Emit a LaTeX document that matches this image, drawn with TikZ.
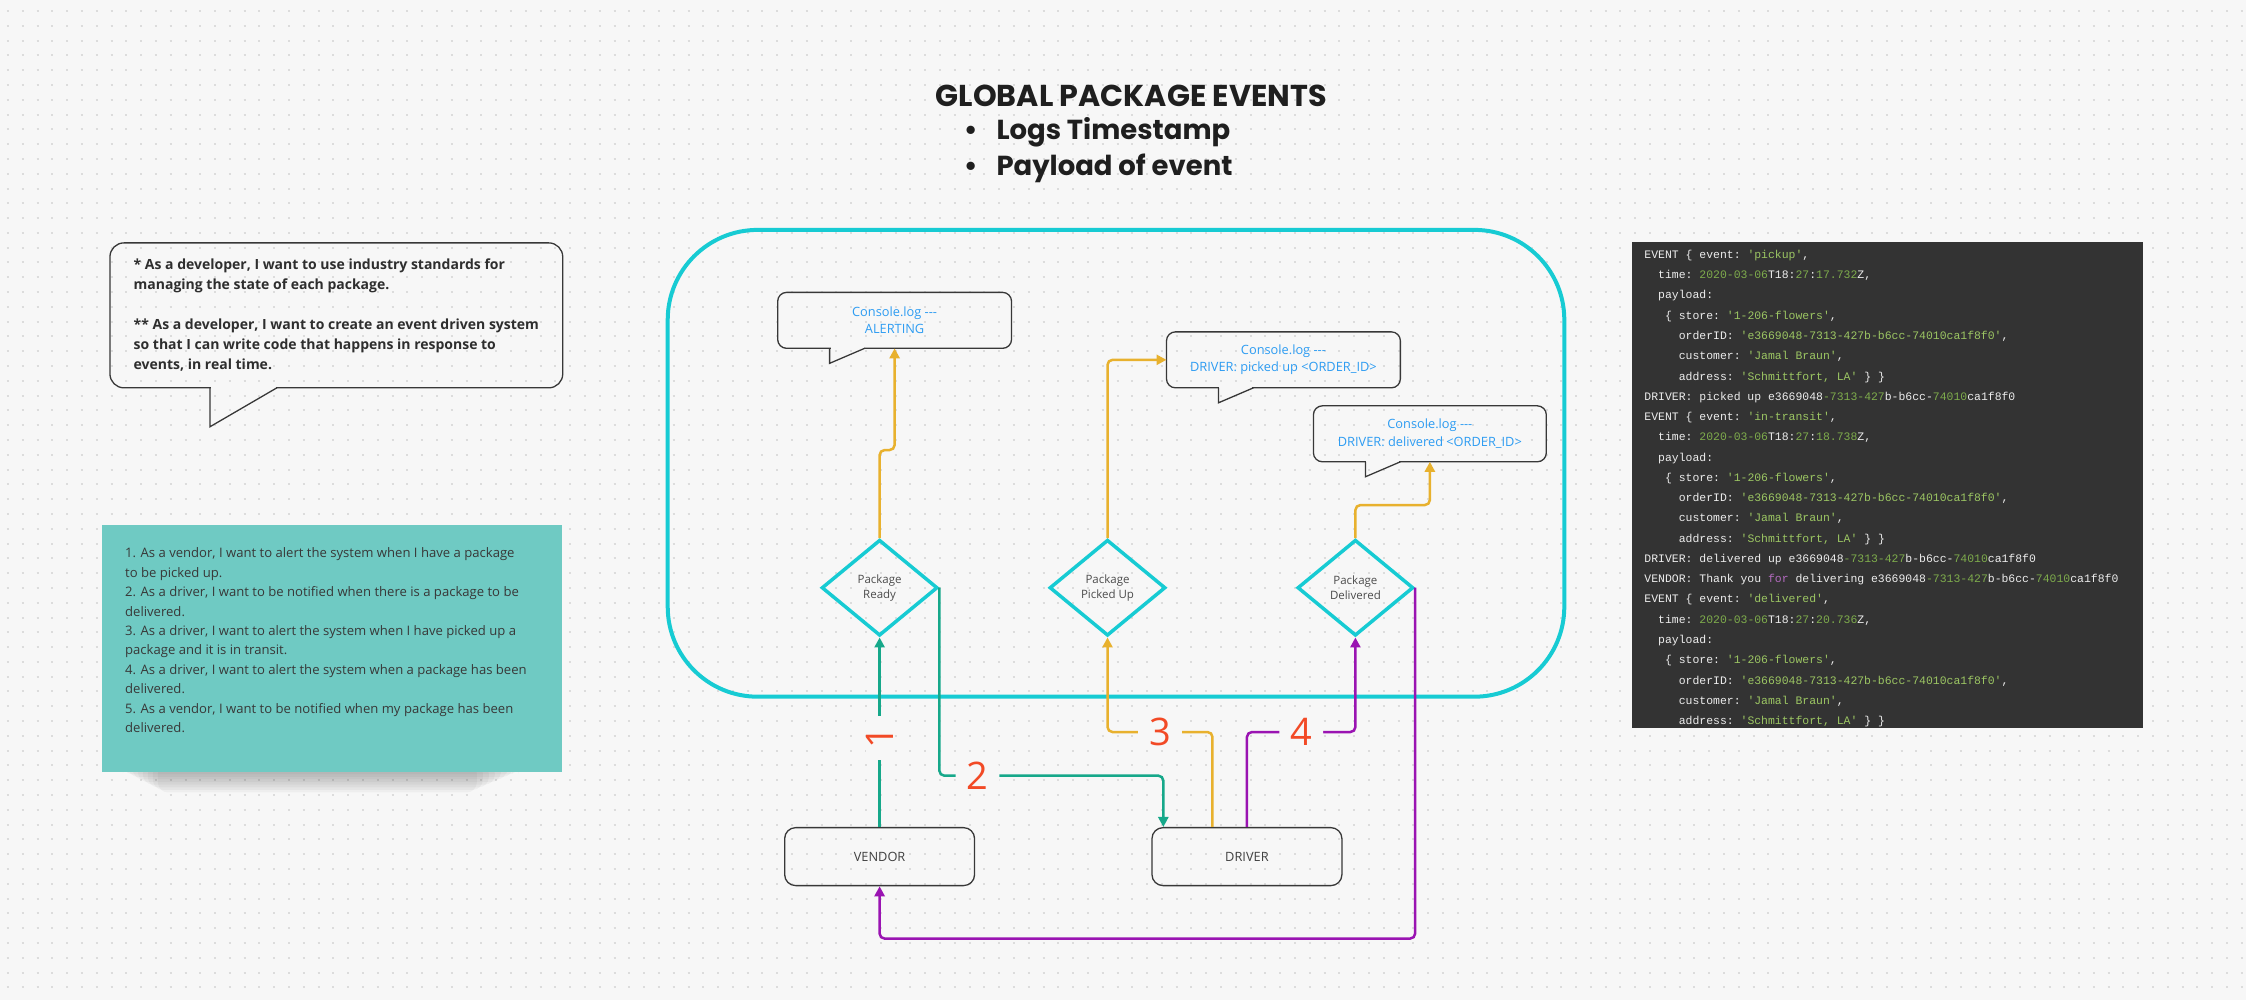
\documentclass[tikz,border=0pt]{standalone}
\usepackage{fontspec}
\setmainfont{Open Sans}
\setmonofont{Liberation Mono}
\newfontfamily\headfont{Poppins}
\usetikzlibrary{arrows.meta,shapes.geometric}

\definecolor{canvas}{HTML}{F7F7F7}
\definecolor{griddot}{HTML}{DCDCDC}
\definecolor{syscyan}{HTML}{17CBD3}
\definecolor{flowteal}{HTML}{16A88A}
\definecolor{flowyellow}{HTML}{E8B12E}
\definecolor{flowpurple}{HTML}{9A14B2}
\definecolor{steporange}{HTML}{F24A26}
\definecolor{logblue}{HTML}{2D9CF2}
\definecolor{sticky}{HTML}{6FCAC3}
\definecolor{codebg}{HTML}{333333}
\definecolor{codetxt}{HTML}{EDEDED}
\definecolor{codestr}{HTML}{9CC663}
\definecolor{codenum}{HTML}{7EAC4C}
\definecolor{codekw}{HTML}{B46BC0}

\newcommand{\strpart}[1]{\textcolor{codestr}{#1}}
\newcommand{\numpart}[1]{\textcolor{codenum}{#1}}
\newcommand{\kwpart}[1]{\textcolor{codekw}{#1}}

\begin{document}
\begin{tikzpicture}[x=1pt, y=-1pt,
	sysbox/.style={draw=syscyan, line width=4pt, rounded corners=90pt, minimum width=897pt, minimum height=467pt, inner sep=0pt},
	logbubble/.style={draw=black!78, line width=1.3pt, outer sep=0pt, rounded corners=9pt, minimum width=234pt, minimum height=56pt, text=logblue, align=center, font=\fontsize{12.8}{17.5}\selectfont},
	bubbletail/.style={draw=black!78, line width=1.3pt},
	eventdiamond/.style={diamond, draw=syscyan, line width=3.5pt, minimum width=116pt, minimum height=96pt, inner sep=0pt, align=center, text=black!70, font=\fontsize{11.5}{15}\selectfont},
	actorbox/.style={draw=black!78, line width=1.3pt, rounded corners=11pt, minimum width=190pt, minimum height=58pt, text=black!75, font=\fontsize{12.8}{15}\selectfont},
	flow/.style={line width=2.5pt, rounded corners=5pt, -{Triangle[length=10pt, width=10pt]}},
	steplabel/.style={fill=canvas, text=steporange, inner xsep=11pt, inner ysep=0pt, font=\fontsize{38}{38}\selectfont}]

	\fill[canvas] (0,0) rectangle (2247,1000);
	\foreach \r in {0,...,66}
		\draw[griddot, line width=2pt, dash pattern=on 2pt off 12.8pt] (7,{11+14.8*\r}) -- (2247,{11+14.8*\r});
	\useasboundingbox (0,0) rectangle (2247,1000);

	\node[anchor=west, inner sep=0pt, text=black!88, font=\headfont\bfseries\fontsize{30.2}{30}\selectfont] (title) at (936,96) {GLOBAL PACKAGE EVENTS};
	\node[anchor=west, inner sep=0pt, text=black!88, font=\headfont\bfseries\fontsize{27.5}{27}\selectfont] (logsitem) at (964,132) {\textbullet\hspace{19pt}Logs Timestamp};
	\node[anchor=west, inner sep=0pt, text=black!88, font=\headfont\bfseries\fontsize{27.5}{27}\selectfont] (payloaditem) at (964,168) {\textbullet\hspace{19pt}Payload of event};

	\node[draw=black!78, line width=1.3pt, outer sep=0pt, rounded corners=14pt, minimum width=453pt, minimum height=145pt, align=left, text=black!82, font=\bfseries\fontsize{14}{20}\selectfont] (devnote) at (336.5,315.5) {* As a developer, I want to use industry standards for\\managing the state of each package.\\[20pt]** As a developer, I want to create an event driven system\\so that I can write code that happens in response to\\events, in real time.};
	\fill[canvas] ([xshift=101pt, yshift=-1pt]devnote.south west) rectangle ++(65,-3);
	\draw[bubbletail] ([xshift=100pt]devnote.south west) -- ++(0,39) -- ++(67,-39);

	\foreach \k in {1,...,8}
		\fill[black, opacity=0.035, rounded corners=10pt] ({118+5*\k},764) rectangle ({525-6*\k},{772+2.6*\k});
	\node[fill=sticky, minimum width=460pt, minimum height=247pt] (usernote) at (332,648.5) {};
	\node[anchor=north west, inner sep=0pt, align=left, text=black!78, font=\fontsize{13.1}{19.4}\selectfont] (userstories) at (125,548) {1. As a vendor, I want to alert the system when I have a package\\to be picked up.\\2. As a driver, I want to be notified when there is a package to be\\delivered.\\3. As a driver, I want to alert the system when I have picked up a\\package and it is in transit.\\4. As a driver, I want to alert the system when a package has been\\delivered.\\5. As a vendor, I want to be notified when my package has been\\delivered.};

	\node[fill=codebg, minimum width=511pt, minimum height=486pt, inner sep=0pt] (codepanel) at (1888.5,485) {};
	\node[anchor=north west, inner sep=0pt, align=left, text=codetxt, font=\ttfamily\fontsize{11.45}{20.28}\selectfont] (codelog) at (1645,250) {EVENT \{ event: \strpart{'pickup'},\\
\hphantom{00}time: \numpart{2020-03-06}T18:\numpart{27}:\numpart{17.732}Z,\\
\hphantom{00}payload:\\
\hphantom{000}\{ store: \strpart{'1-206-flowers'},\\
\hphantom{00000}orderID: \strpart{'e3669048-7313-427b-b6cc-74010ca1f8f0'},\\
\hphantom{00000}customer: \strpart{'Jamal Braun'},\\
\hphantom{00000}address: \strpart{'Schmittfort, LA'} \} \}\\
DRIVER: picked up e3669048\numpart{-7313-427}b-b6cc-\numpart{74010}ca1f8f0\\
EVENT \{ event: \strpart{'in-transit'},\\
\hphantom{00}time: \numpart{2020-03-06}T18:\numpart{27}:\numpart{18.738}Z,\\
\hphantom{00}payload:\\
\hphantom{000}\{ store: \strpart{'1-206-flowers'},\\
\hphantom{00000}orderID: \strpart{'e3669048-7313-427b-b6cc-74010ca1f8f0'},\\
\hphantom{00000}customer: \strpart{'Jamal Braun'},\\
\hphantom{00000}address: \strpart{'Schmittfort, LA'} \} \}\\
DRIVER: delivered up e3669048\numpart{-7313-427}b-b6cc-\numpart{74010}ca1f8f0\\
VENDOR: Thank you \kwpart{for} delivering e3669048\numpart{-7313-427}b-b6cc-\numpart{74010}ca1f8f0\\
EVENT \{ event: \strpart{'delivered'},\\
\hphantom{00}time: \numpart{2020-03-06}T18:\numpart{27}:\numpart{20.736}Z,\\
\hphantom{00}payload:\\
\hphantom{000}\{ store: \strpart{'1-206-flowers'},\\
\hphantom{00000}orderID: \strpart{'e3669048-7313-427b-b6cc-74010ca1f8f0'},\\
\hphantom{00000}customer: \strpart{'Jamal Braun'},\\
\hphantom{00000}address: \strpart{'Schmittfort, LA'} \} \}};

	\node[sysbox] (eventhub) at (1116.5,463.5) {};
	\node[logbubble] (alertlog) at (895,320.5) {Console.log -{}-{}-\\ALERTING};
	\node[logbubble] (pickedlog) at (1284,360) {Console.log -{}-{}-\\DRIVER: picked up <ORDER\_ID>};
	\node[logbubble, minimum width=233pt] (deliveredlog) at (1430.5,434) {Console.log -{}-{}-\\DRIVER: delivered <ORDER\_ID>};
	\foreach \b in {alertlog,pickedlog,deliveredlog} {
		\fill[canvas] ([xshift=53pt, yshift=-1pt]\b.south west) rectangle ++(33,-3);
		\draw[bubbletail] ([xshift=52pt]\b.south west) -- ++(0,15) -- ++(35,-15);
	}

	\node[eventdiamond] (ready) at (880,588) {Package\\Ready};
	\node[eventdiamond] (pickedup) at (1108,588) {Package\\Picked Up};
	\node[eventdiamond] (delivered) at (1356,588) {Package\\Delivered};

	\node[actorbox] (vendor) at (880,857) {VENDOR};
	\node[actorbox] (driver) at (1247.5,857) {DRIVER};

	\coordinate (row2) at (1016,776);
	\draw[flow, flowteal] (vendor.north) -- node[steplabel, rotate=90, pos=0.47] {1} (ready.south);
	\draw[flow, flowteal] (ready.east) |- node[steplabel, pos=0.75] {2} (row2) -| ([xshift=12pt]driver.north west);
	\draw[flow, flowyellow] ([xshift=-34.5pt]driver.north) -- ++(0,-95) -| node[steplabel, pos=0.25] {3} (pickedup.south);
	\draw[flow, flowpurple] (driver.north) -- ++(0,-95) -| node[steplabel, pos=0.25] {4} (delivered.south);
	\draw[flow, flowpurple] (delivered.east) -- ++(0,351) -| (vendor.south);
	\draw[flow, flowyellow] (ready.north) -- ++(0,-88) -| (alertlog.south);
	\draw[flow, flowyellow] (pickedup.north) |- (pickedlog.west);
	\draw[flow, flowyellow] (delivered.north) -- ++(0,-33) -| (deliveredlog.south);
\end{tikzpicture}
\end{document}
